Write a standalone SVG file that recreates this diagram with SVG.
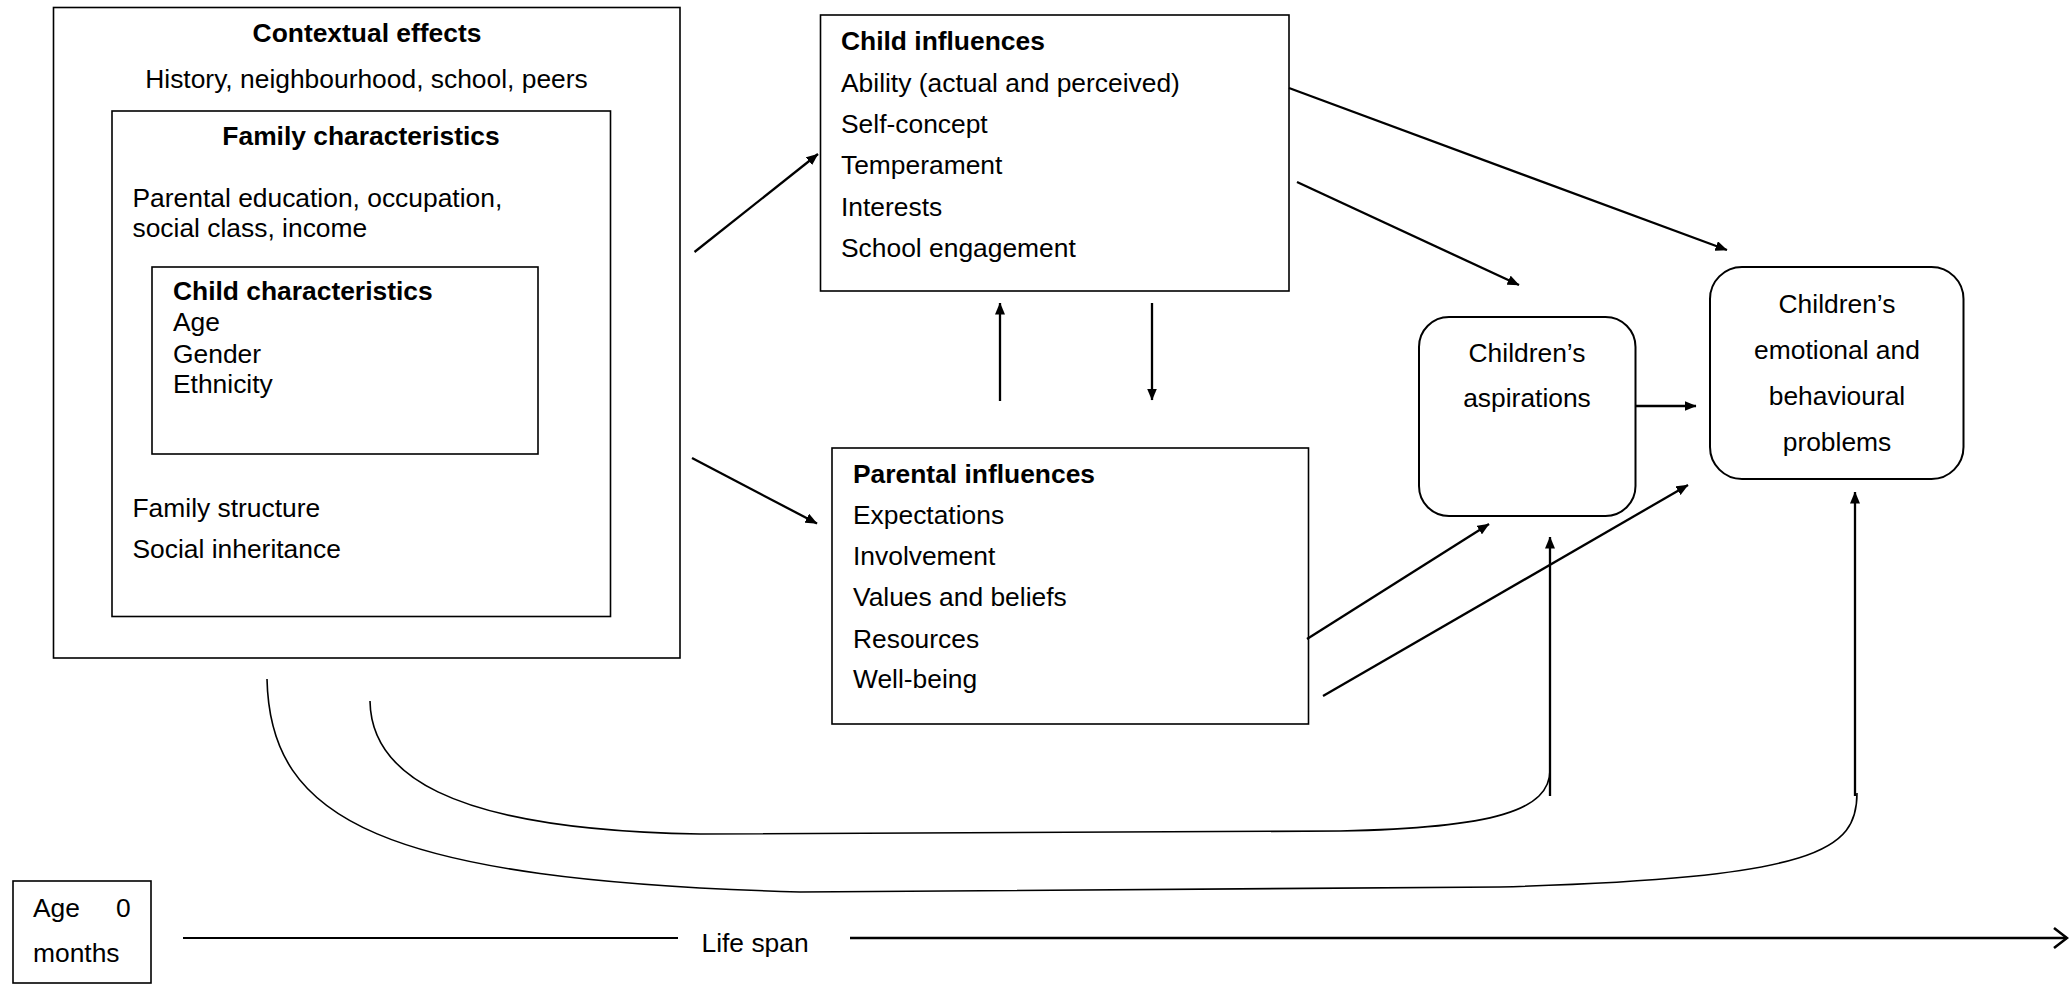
<svg xmlns="http://www.w3.org/2000/svg" width="2069" height="990" viewBox="0 0 2069 990">
  <style>
    .box { fill: #ffffff; stroke: #000000; stroke-width: 1.6; }
    .rbox { fill: #ffffff; stroke: #000000; stroke-width: 2; }
    text { font-family: "Liberation Sans", Arial, sans-serif; font-size: 26.4px; fill: #000000; }
    .b { font-weight: bold; }
    .c { text-anchor: middle; }
    .edge { fill: none; stroke: #000000; stroke-width: 2.3; }
    .curve { fill: none; stroke: #000000; stroke-width: 1.6; }
  </style>
  <defs>
    <marker id="head" viewBox="0 0 12 10" refX="11.5" refY="5" markerWidth="12" markerHeight="10" markerUnits="userSpaceOnUse" orient="auto">
      <path d="M0,0 L12,5 L0,10 z" fill="#000000"/>
    </marker>
  </defs>

  <rect width="2069" height="990" fill="#ffffff"/>

  <!-- outer context with nested family and child boxes -->
  <g id="contextual-effects">
    <rect class="box" x="53.5" y="7.5" width="626.5" height="650.5"/>
    <text class="b c" x="367" y="42">Contextual effects</text>
    <text class="c" x="366.5" y="88">History, neighbourhood, school, peers</text>
  </g>
  <g id="family-characteristics">
    <rect class="box" x="112" y="111" width="498.5" height="505.5"/>
    <text class="b c" x="361" y="145">Family characteristics</text>
    <text x="132.5" y="207">Parental education, occupation,</text>
    <text x="132.5" y="237">social class, income</text>
    <text x="132.5" y="517">Family structure</text>
    <text x="132.5" y="558">Social inheritance</text>
  </g>
  <g id="child-characteristics">
    <rect class="box" x="152" y="267" width="386" height="187"/>
    <text class="b" x="173" y="300">Child characteristics</text>
    <text x="173" y="331">Age</text>
    <text x="173" y="363">Gender</text>
    <text x="173" y="393">Ethnicity</text>
  </g>

  <g id="child-influences">
    <rect class="box" x="820.5" y="15" width="468.5" height="276"/>
    <text class="b" x="841" y="50">Child influences</text>
    <text x="841" y="92">Ability (actual and perceived)</text>
    <text x="841" y="133">Self-concept</text>
    <text x="841" y="174">Temperament</text>
    <text x="841" y="216">Interests</text>
    <text x="841" y="257">School engagement</text>
  </g>

  <g id="parental-influences">
    <rect class="box" x="832" y="448" width="476.5" height="276"/>
    <text class="b" x="853" y="483">Parental influences</text>
    <text x="853" y="524">Expectations</text>
    <text x="853" y="565">Involvement</text>
    <text x="853" y="606">Values and beliefs</text>
    <text x="853" y="648">Resources</text>
    <text x="853" y="688">Well-being</text>
  </g>

  <g id="childrens-aspirations">
    <rect class="rbox" x="1419" y="317" width="216.5" height="199" rx="30" ry="30"/>
    <text class="c" x="1527" y="362">Children’s</text>
    <text class="c" x="1527" y="407">aspirations</text>
  </g>

  <g id="childrens-problems">
    <rect class="rbox" x="1710" y="267" width="253.5" height="212" rx="32" ry="32"/>
    <text class="c" x="1837" y="313">Children’s</text>
    <text class="c" x="1837" y="359">emotional and</text>
    <text class="c" x="1837" y="405">behavioural</text>
    <text class="c" x="1837" y="451">problems</text>
  </g>

  <g id="age-start">
    <rect class="box" x="13" y="881" width="138" height="102"/>
    <text x="33" y="917">Age</text>
    <text x="116" y="917">0</text>
    <text x="33" y="962">months</text>
  </g>

  <g id="life-span-label">
    <text x="701.5" y="952">Life span</text>
  </g>

  <g id="connectors">
    <path class="edge" d="M694.5,252 L818,154" marker-end="url(#head)"/>
    <path class="edge" d="M692,458 L817,523.5" marker-end="url(#head)"/>
    <path class="edge" d="M1000,401 L1000,303" marker-end="url(#head)"/>
    <path class="edge" d="M1152,303 L1152,400" marker-end="url(#head)"/>
    <path class="edge" d="M1289,88 L1727,250" marker-end="url(#head)"/>
    <path class="edge" d="M1297,182 L1519,285" marker-end="url(#head)"/>
    <path class="edge" d="M1636,406 L1696,406" marker-end="url(#head)"/>
    <path class="edge" d="M1307,639 L1489,524" marker-end="url(#head)"/>
    <path class="edge" d="M1323,696 L1688,485" marker-end="url(#head)"/>
    <path class="edge" d="M1550,796 L1550,537" marker-end="url(#head)"/>
    <path class="edge" d="M1855,796 L1855,492" marker-end="url(#head)"/>
    <!-- long-run links from the context box to the outcomes -->
    <path class="curve" d="M370,701 C371,770 440,830 700,834 L1340,831 C1495,828 1550,810 1550,770"/>
    <path class="curve" d="M267,679 C270,820 380,880 800,892 L1500,887 C1820,878 1857,850 1857,793"/>
    <!-- time axis -->
    <path class="edge" d="M183,938 L678,938" style="stroke-width:2"/>
    <path class="edge" d="M850,938 L2067,938" style="stroke-width:2.6"/>
    <path d="M2054,928 L2067,938 L2054,948" fill="none" stroke="#000000" stroke-width="2.6"/>
  </g>
</svg>
